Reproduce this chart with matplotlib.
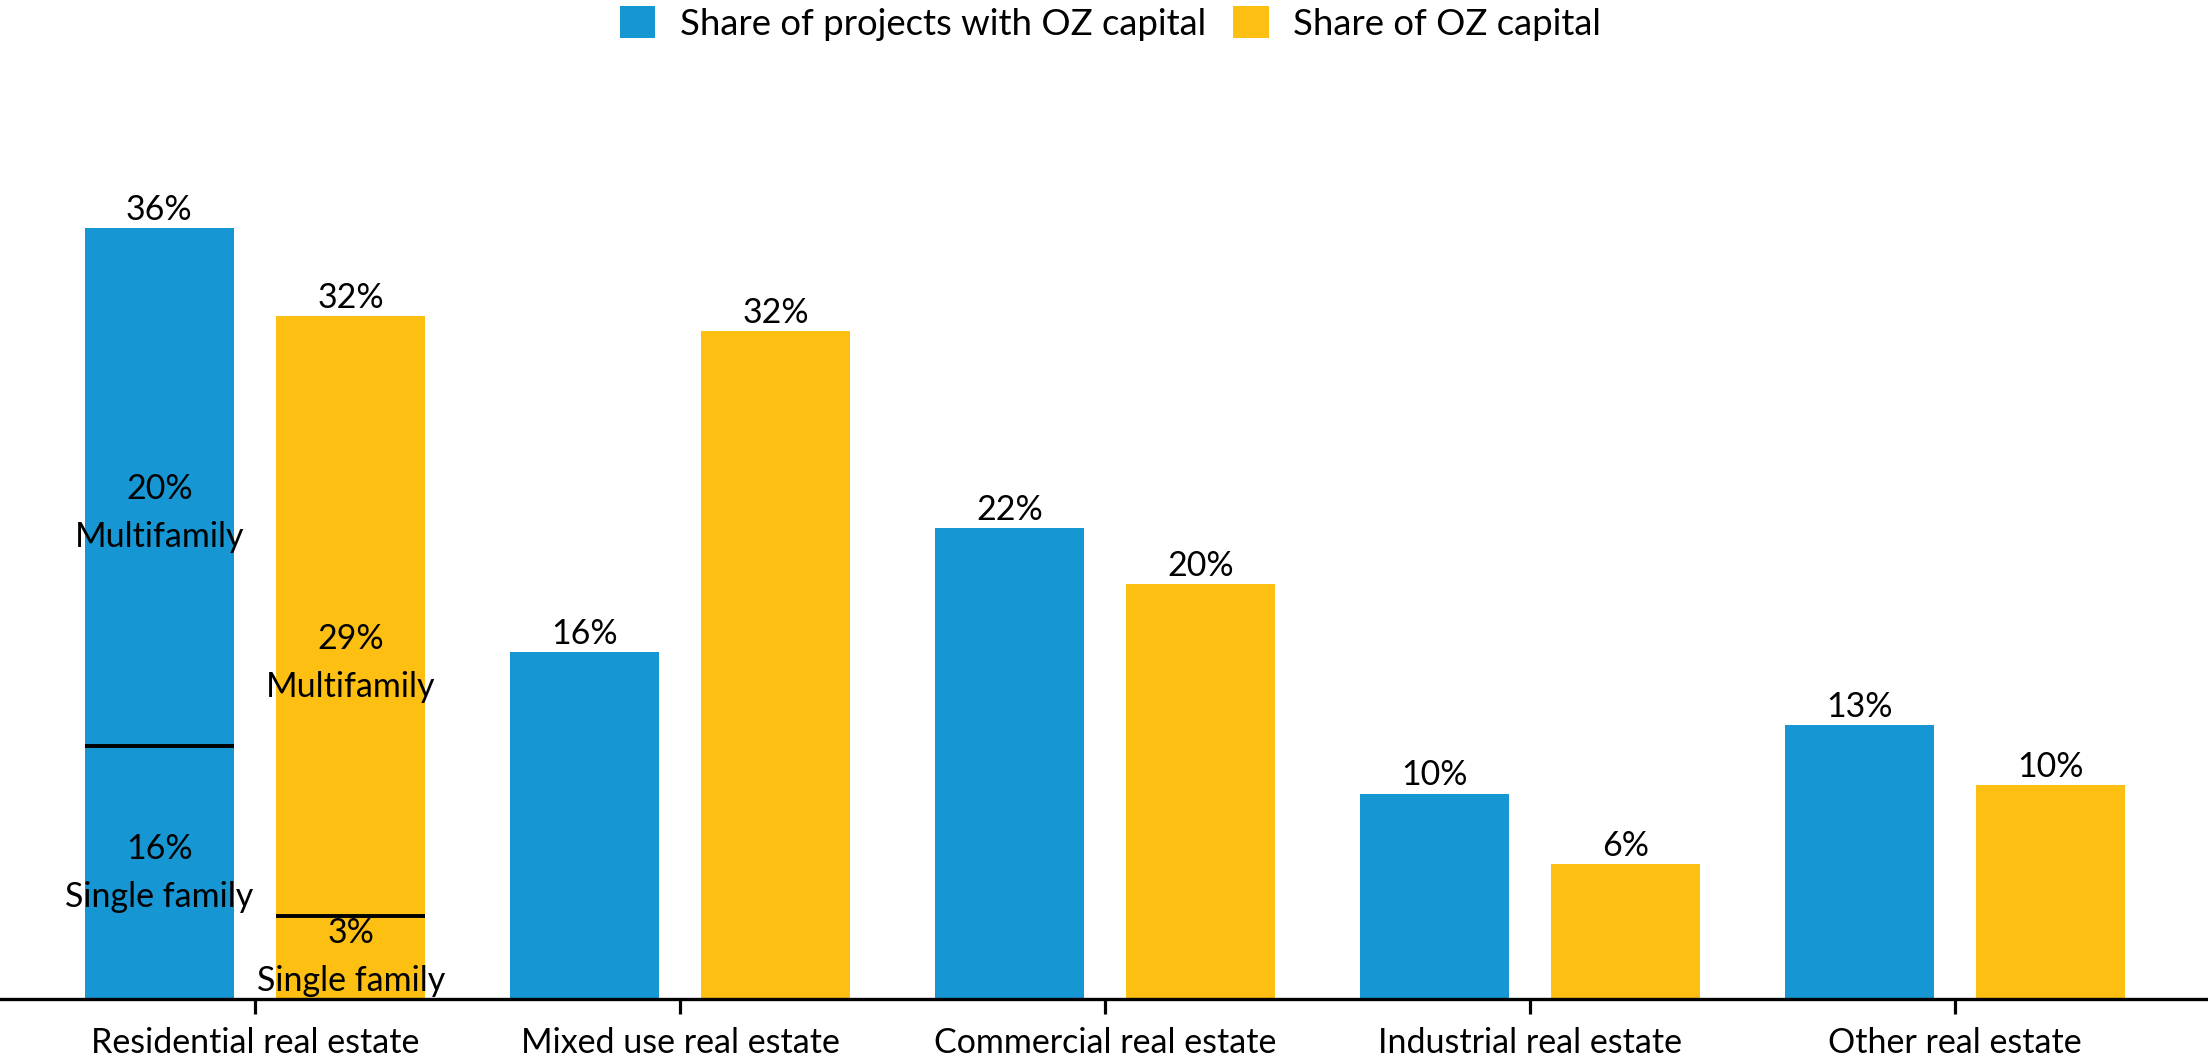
import matplotlib.pyplot as plt
import numpy as np

plt.rcParams['font.family'] = ['Lato', 'DejaVu Sans']

# categories and values (as drawn)
categories = ['Residential real estate', 'Mixed use real estate', 'Commercial real estate',
              'Industrial real estate', 'Other real estate']
projects = [36.0, 16.2, 22.0, 9.6, 12.8]
capital = [31.9, 31.2, 19.4, 6.3, 10.0]
projects_labels = ['36%', '16%', '22%', '10%', '13%']
capital_labels = ['32%', '32%', '20%', '6%', '10%']

# residential split (single family part as drawn)
single_family = [11.8, 3.9]
split_text_top = ['20%\nMultifamily', '29%\nMultifamily']
split_text_bottom = ['16%\nSingle family', '3%\nSingle family']
split_text_top_y = [22.7, 15.7]
split_text_bottom_y = [5.9, 1.96]

blue = '#1696d2'
yellow = '#fdbf11'
fs = 24.5

fig = plt.figure(figsize=(22.08, 10.63), dpi=100)
ax = fig.add_axes([0, 64 / 1063, 1, (999 - 100) / 1063])

x = np.arange(len(categories))
w = 0.35
off = 0.225
ax.bar(x - off, projects, w, color=blue, label='Share of projects with OZ capital')
ax.bar(x + off, capital, w, color=yellow, label='Share of OZ capital')

for i in range(len(categories)):
    ax.text(x[i] - off, projects[i] + 0.1, projects_labels[i], ha='center', va='bottom', fontsize=fs)
    ax.text(x[i] + off, capital[i] + 0.1, capital_labels[i], ha='center', va='bottom', fontsize=fs)

# residential dividers and labels
for k, pos in enumerate([x[0] - off, x[0] + off]):
    ax.hlines(single_family[k], pos - w / 2, pos + w / 2, color='black', lw=2.8, zorder=3)
    ax.text(pos, split_text_top_y[k], split_text_top[k], ha='center', va='center',
            fontsize=fs, linespacing=1.6)
    ax.text(pos, split_text_bottom_y[k], split_text_bottom[k], ha='center', va='center',
            fontsize=fs, linespacing=1.6)

ax.set_xlim(-0.6, 4.595)
ax.set_ylim(0, 42)
ax.set_xticks(x)
ax.set_xticklabels(categories, fontsize=fs)
ax.tick_params(axis='x', length=11, width=2.3, pad=9)
ax.set_yticks([])
for s in ['top', 'right', 'left']:
    ax.spines[s].set_visible(False)
ax.spines['bottom'].set_linewidth(2.4)

fig.legend(loc='upper center', bbox_to_anchor=(0.503, 1.025), ncol=2, frameon=False,
           fontsize=26.3, handlelength=0.97, handleheight=0.95, handletextpad=0.67,
           columnspacing=0.75)

fig.savefig('out.png', dpi=100)
